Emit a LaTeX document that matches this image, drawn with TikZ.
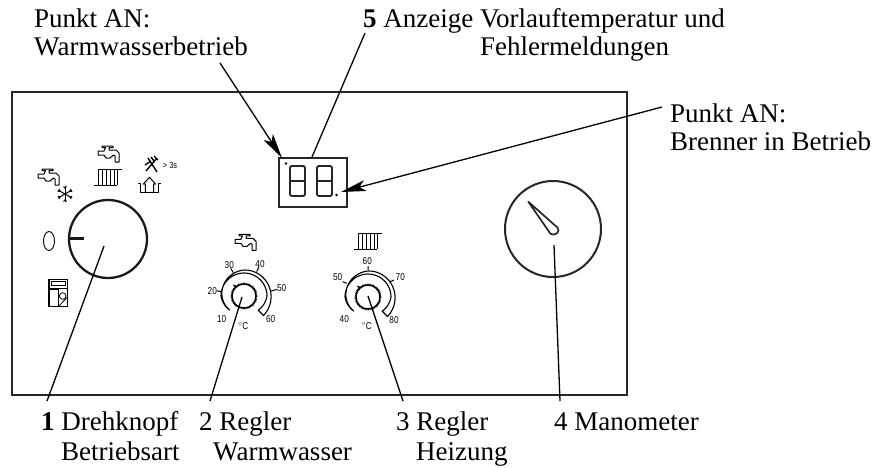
\documentclass[tikz,border=0pt]{standalone}
\usepackage{fontspec}
\setmainfont{Liberation Serif}
\newfontfamily\dialfont[FakeStretch=0.82]{Liberation Sans}
\usetikzlibrary{arrows.meta}
\tikzset{
  declare function={arcin(\a)=(\a>180?20+3*(225-\a)/45:(\a<0?23+3*\a/45:23));
    arcout(\a)=(\a>90?20+6*(225-\a)/135:26+1.6*(90-\a)/135);},
  label/.style={anchor=base west,inner sep=0pt,font=\fontsize{27}{28}\selectfont},
  leader/.style={line width=1.3pt,black},
  pointer/.style={leader,-{Stealth[length=25pt,width=11pt,inset=6pt]}},
  icon/.style={line width=1pt,line join=round},
  tick/.style={line width=1pt},
  num/.style={inner sep=0pt,font=\dialfont\fontsize{10}{10}\selectfont},
  seg/.style={line width=1.9pt,rounded corners=2pt,black!85},
  tapicon/.pic={\draw[icon] (4,0)--(15,0)--(15,1.6)--(11,1.6)--(11,4)--(18,4)--(21,7)--(21,16)--(17,16)--(17,10)--(15.5,9)--(12,12)--(8,12)--(6,9)--(0,9)--(0,5)--(6,5)--(7.5,1.6)--(4,1.6)--cycle;},
  radicon/.pic={\draw[icon] (0,0)--(23.4,0) (-4.3,16)--(19,16);
    \foreach \vx in {0,4.2,8.2,12.2,16.2,19}{\draw[icon] (\vx,0)--(\vx,16);}},
  dialicon/.pic={
    \draw[line width=1.4pt] (0,0) circle (12);
    \draw[line width=1.2pt,dash pattern=on .8pt off .8pt] (0,0) circle (12.9);
    \fill (-8.6,-8.2)--(-11.5,-11.5)--(-7.2,-10.2)--cycle;
    \draw[line width=1.1pt,line join=round] plot[domain=225:-45,samples=60] ({arcin(\x)*cos(\x)},{-arcin(\x)*sin(\x)})
      -- plot[domain=-45:225,samples=60] ({arcout(\x)*cos(\x)},{-arcout(\x)*sin(\x)});
  },
}
\begin{document}
\begin{tikzpicture}[x=1pt,y=-1pt]
\useasboundingbox (0,0) rectangle (874,467);
% panel
\node (panel) [draw,line width=1.7pt,black!85,inner sep=0pt,minimum width=615pt,minimum height=303pt,anchor=north west] at (11,91) {};
% labels
\node[label] (lA) at (34,27) {Punkt AN:};
\node[label] (lB) at (34,55) {Warmwasserbetrieb};
\node[label] (lC) at (363,27) {\textbf{5} Anzeige Vorlauftemperatur und};
\node[label] (lD) at (480,55) {Fehlermeldungen};
\node[label] (lE) at (670,122) {Punkt AN:};
\node[label] (lF) at (670,150) {Brenner in Betrieb};
\node[label] (l1) at (41,430) {\textbf{1} Drehknopf};
\node[label] (l1b) at (61,460) {Betriebsart};
\node[label] (l2) at (199,430) {2 Regler};
\node[label] (l2b) at (213,460) {Warmwasser};
\node[label] (l3) at (396,430) {3 Regler};
\node[label] (l3b) at (416,460) {Heizung};
\node[label] (l4) at (554,430) {4 Manometer};
% display
\node (disp) [draw,line width=1.6pt,black!85,inner sep=0pt,minimum width=68pt,minimum height=49pt,anchor=north west] at (278,157) {};
\draw[seg] (290,166) rectangle (305,196); \draw[seg] (290,181)--(305,181);
\draw[seg] (317,166) rectangle (332,196); \draw[seg] (317,181)--(332,181);
\fill (286,163.5) circle (1.4);
\fill (336.5,195) circle (1.4);
% main dial
\node (dial) [draw,circle,line width=2.3pt,black!90,inner sep=0pt,minimum size=78pt] at (108,239) {};
\draw[line width=2.2pt,black!90] (69,238.5)--(84,238.5);
% mode icons
\pic at (38,169) {tapicon};
\pic at (98,146) {tapicon};
\pic at (98.3,169.3) {radicon};
\foreach \a in {0,60,120}{\draw[icon] (65,194) ++(\a+30:8)--++(\a+210:16);}
\foreach \a in {30,90,150,210,270,330}{\draw[line width=.8pt] (65,194) ++(\a:5.5)--++(\a+35:2.5) (65,194) ++(\a:5.5)--++(\a-35:2.5);}
% tools
\draw[line width=1.4pt] (146,171)--(157,158) (148,158)--(157,172) (145,165)--(151,161) (151,157)--(154,161) (154,156)--(158,160);
\node[inner sep=0pt,font=\dialfont\fontsize{9}{9}\selectfont] (tt) at (170,165) {> 3s};
% tray and arrow
\draw[icon] (138.3,183.3)--(140.7,183.3)--(140.7,192.7)--(158.3,192.7)--(158.3,183.3)--(160.7,183.3);
\draw[icon] (145.3,192)--(145.3,184)--(143.3,184)--(149.5,177.3)--(155.5,184)--(153.5,184)--(153.5,192);
% off
\draw[line width=.9pt] (49,241) ellipse (5.5 and 9.5);
% boiler
\draw[line width=1.1pt] (49,279.3) rectangle (67.7,306.7);
\draw[line width=.8pt] (51.7,281.7) rectangle (65.7,285.7);
\fill (49,288.3) rectangle (58.3,290.3);
\draw[line width=.8pt] (49,288.3)--(67.7,288.3) (58.3,288.3)--(58.3,306.7);
\draw[line width=.8pt] (62.7,296) circle (3.3);
\draw[line width=.8pt] (58.3,306.7)--(67.7,296.9);
% left thermostat
\pic at (244,296) {dialicon};
\pic at (235,234.3) {tapicon};
\draw[tick] (216.7,290.7)--(221,291.7) (230.7,268.3)--(233.3,272.7) (259,266.7)--(256.7,271.7) (277.3,289.3)--(271,291);
\node[num] (a10) at (221.7,319.3) {10};
\node[num] (a20) at (212.3,290.7) {20};
\node[num] (a30) at (229.3,264.7) {30};
\node[num] (a40) at (260,264.3) {40};
\node[num] (a50) at (281.7,288.3) {50};
\node[num] (a60) at (270.7,319.3) {60};
\node[num] (ac) at (243.3,326) {$^{\circ}$\kern-.3pt C};
% right thermostat
\pic at (368,297) {dialicon};
\pic at (358.3,233.3) {radicon};
\draw[tick] (342.7,281.7)--(346.7,283.3) (368,266)--(368,270) (394,280)--(390,281.7);
\node[num] (b40) at (344.3,319.3) {40};
\node[num] (b50) at (337.7,277.3) {50};
\node[num] (b60) at (367.3,261) {60};
\node[num] (b70) at (400.3,277) {70};
\node[num] (b80) at (394,320) {80};
\node[num] (bc) at (366.7,326) {$^{\circ}$\kern-.3pt C};
% manometer
\node (gauge) [draw,circle,line width=2pt,black!85,inner sep=0pt,minimum size=96pt] at (553,229) {};
\draw[line width=1.7pt,line join=round,black!85] (528.3,201.7)--(557.5,227.6) .. controls (561,231) and (555,237) .. (550.5,233.8) --cycle;
% connector ends
\coordinate (s1) at (104,246); \coordinate (e1) at (47,401);
\coordinate (s2) at (242,297); \coordinate (e2) at (210,401);
\coordinate (s3) at (368,296); \coordinate (e3) at (403,401);
\coordinate (s4) at (554,245); \coordinate (e4) at (560,401);
\coordinate (pa) at (220,63); \coordinate (ta) at (282,158);
\coordinate (pb) at (365,33); \coordinate (tb) at (312,157);
\coordinate (pc) at (662,107); \coordinate (tc) at (341,192);
\draw[leader] (s1)--(e1);
\draw[leader] (s2)--(e2);
\draw[leader] (s3)--(e3);
\draw[leader] (s4)--(e4);
\draw[pointer] (pa)--(ta);
\draw[leader] (pb)--(tb);
\draw[pointer] (pc)--(tc);
\end{tikzpicture}
\end{document}
